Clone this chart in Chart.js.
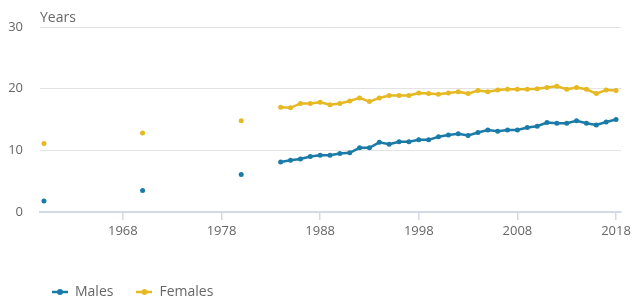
<!DOCTYPE html>
<html>
<head>
<meta charset="utf-8">
<script src="https://cdn.jsdelivr.net/npm/chart.js@4/dist/chart.umd.min.js"></script>
<style>
html,body{margin:0;padding:0;background:#fff;overflow:hidden;}
#wrap{width:634px;height:300px;position:relative;}
</style>
</head>
<body>
<div id="wrap"><canvas id="c" width="634" height="300"></canvas></div>
<script>
const years = [1960,1970,1980,1984,1985,1986,1987,1988,1989,1990,1991,1992,1993,1994,1995,1996,1997,1998,1999,2000,2001,2002,2003,2004,2005,2006,2007,2008,2009,2010,2011,2012,2013,2014,2015,2016,2017,2018];
const males = [1.8,3.5,6.1,8.1,8.4,8.6,9.0,9.2,9.2,9.5,9.6,10.4,10.4,11.3,11.0,11.4,11.4,11.7,11.7,12.2,12.5,12.7,12.4,12.9,13.3,13.1,13.3,13.3,13.7,13.9,14.5,14.4,14.4,14.8,14.4,14.1,14.6,15.0];
const females = [11.1,12.8,14.8,17.0,16.9,17.6,17.6,17.8,17.4,17.6,18.0,18.5,17.9,18.5,18.9,18.9,18.9,19.3,19.2,19.1,19.3,19.5,19.2,19.7,19.5,19.8,19.9,19.9,19.9,20.0,20.2,20.4,19.9,20.2,19.9,19.2,19.8,19.7];
const xTickLabels = [1968,1978,1988,1998,2008,2018];
const yTickLabels = [0,10,20,30];
const seriesNames = ['Males','Females'];
const unitLabel = 'Years';

const BLUE = '#1a7ba8';
const GOLD = '#e6b822';
const FONT = '"Open Sans", "DejaVu Sans", sans-serif';

function legendMarker(color){
  const cv = document.createElement('canvas');
  cv.width = 16; cv.height = 8;
  const g = cv.getContext('2d');
  g.strokeStyle = color; g.lineWidth = 2.5;
  g.beginPath(); g.moveTo(0,4); g.lineTo(16,4); g.stroke();
  g.fillStyle = color;
  g.beginPath(); g.arc(8,4,3,0,Math.PI*2); g.fill();
  return cv;
}

function toPoints(vals){ return years.map((y,i)=>({x:y,y:vals[i]})); }

const gapSegment = {
  borderColor: ctx => (ctx.p1.parsed.x - ctx.p0.parsed.x > 1) ? 'rgba(0,0,0,0)' : undefined
};

const unitPlugin = {
  id:'unitLabel',
  afterLayout(chart){
    if (chart.legend) chart.legend.left = 29;
  },
  afterDraw(chart){
    const ctx = chart.ctx;
    ctx.save();
    ctx.font = '14px ' + FONT;
    ctx.fillStyle = '#666';
    ctx.textAlign = 'left';
    ctx.textBaseline = 'middle';
    ctx.fillText(unitLabel, chart.chartArea.left, 18);
    ctx.restore();
  }
};

const markers = [legendMarker(BLUE), legendMarker(GOLD)];

new Chart(document.getElementById('c'), {
  type:'line',
  data:{
    datasets:[
      {label:seriesNames[0], data:toPoints(males), borderColor:BLUE, backgroundColor:BLUE, pointBackgroundColor:BLUE, pointBorderColor:BLUE, borderWidth:2.5, pointRadius:2.5, pointBorderWidth:0, segment:gapSegment, tension:0},
      {label:seriesNames[1], data:toPoints(females), borderColor:GOLD, backgroundColor:GOLD, pointBackgroundColor:GOLD, pointBorderColor:GOLD, borderWidth:2.5, pointRadius:2.5, pointBorderWidth:0, segment:gapSegment, tension:0}
    ]
  },
  options:{
    responsive:false,
    animation:false,
    layout:{padding:{left:0, right:11, top:27, bottom:-9}},
    plugins:{
      tooltip:{enabled:false},
      legend:{
        position:'bottom',
        align:'start',
        labels:{
          usePointStyle:true,
          pointStyleWidth:16,
          boxWidth:16,
          padding:23,
          color:'#666',
          font:{family:FONT, size:14},
          generateLabels(chart){
            const items = Chart.defaults.plugins.legend.labels.generateLabels(chart);
            items.forEach((it,i)=>{ it.pointStyle = markers[i]; });
            return items;
          }
        }
      }
    },
    scales:{
      x:{
        type:'linear',
        min:1959.6,
        max:2018.5,
        afterBuildTicks(s){ s.ticks = xTickLabels.map(v=>({value:v})); },
        afterFit(s){ s.height = 50; },
        grid:{display:true, drawOnChartArea:false, drawTicks:true, tickLength:8, color:'#d3dae6', lineWidth:1.5},
        border:{display:true, color:'#d3dae6', width:2},
        ticks:{color:'#666', font:{family:FONT, size:13}, padding:3, maxRotation:0, autoSkip:false, callback:v=>String(v)}
      },
      y:{
        min:0, max:30,
        afterBuildTicks(s){ s.ticks = yTickLabels.map(v=>({value:v})); },
        afterFit(s){ s.width = 40; },
        grid:{color: c => c.tick && c.tick.value === 0 ? 'rgba(0,0,0,0)' : '#e3e3e3', drawTicks:false, lineWidth:1},
        border:{display:false},
        ticks:{color:'#666', font:{family:FONT, size:13}, padding:17, callback:v=>String(v)}
      }
    }
  },
  plugins:[unitPlugin]
});
</script>
</body>
</html>
